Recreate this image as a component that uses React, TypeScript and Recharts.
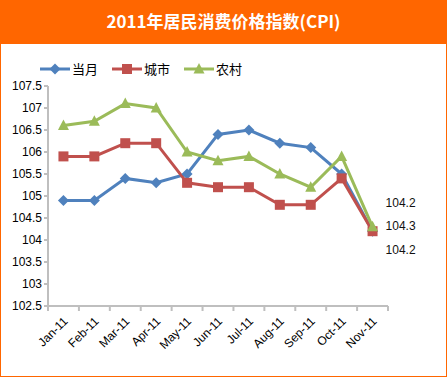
import React from 'react';
import { LineChart, Line, XAxis, YAxis, LabelList } from 'recharts';

const months = ['Jan-11', 'Feb-11', 'Mar-11', 'Apr-11', 'May-11', 'Jun-11', 'Jul-11', 'Aug-11', 'Sep-11', 'Oct-11', 'Nov-11'];
const dangYue = [104.9, 104.9, 105.4, 105.3, 105.5, 106.4, 106.5, 106.2, 106.1, 105.5, 104.2];
const chengShi = [105.9, 105.9, 106.2, 106.2, 105.3, 105.2, 105.2, 104.8, 104.8, 105.4, 104.2];
const nongCun = [106.6, 106.7, 107.1, 107.0, 106.0, 105.8, 105.9, 105.5, 105.2, 105.9, 104.3];
const yTicks = [102.5, 103, 103.5, 104, 104.5, 105, 105.5, 106, 106.5, 107, 107.5];

const title = '2011年居民消费价格指数(CPI)';

const series = [
  { key: 'dangYue', name: '当月', color: '#4F81BD', shape: 'diamond', labelDy: -28 },
  { key: 'chengShi', name: '城市', color: '#C0504D', shape: 'square', labelDy: 19 },
  { key: 'nongCun', name: '农村', color: '#9BBB59', shape: 'triangle', labelDy: -1 },
];

const data = months.map((m, i) => ({
  month: m,
  dangYue: dangYue[i],
  chengShi: chengShi[i],
  nongCun: nongCun[i],
}));

const FONT = '"Liberation Sans", Arial, sans-serif';
const CJK = '"Noto Sans CJK SC", sans-serif';
const HALF_BAND = 15.45;

const Marker = ({ shape, cx, cy, color }: { shape: string; cx: number; cy: number; color: string }) => {
  if (shape === 'diamond') {
    return <polygon points={`${cx},${cy - 5.5} ${cx + 5.5},${cy} ${cx},${cy + 5.5} ${cx - 5.5},${cy}`} fill={color} />;
  }
  if (shape === 'square') {
    return <rect x={cx - 5} y={cy - 5} width={10} height={10} fill={color} />;
  }
  return <polygon points={`${cx},${cy - 6} ${cx + 5.5},${cy + 4.5} ${cx - 5.5},${cy + 4.5}`} fill={color} />;
};

const MonthTick = (props: any) => {
  const { x, y, payload, index } = props;
  const last = index === months.length - 1;
  return (
    <g>
      <line x1={x - HALF_BAND} y1={y} x2={x - HALF_BAND} y2={y + 5} stroke="#BFBFBF" strokeWidth={2} />
      {last && <line x1={x + HALF_BAND} y1={y} x2={x + HALF_BAND} y2={y + 5} stroke="#BFBFBF" strokeWidth={2} />}
      <text
        x={x + 5}
        y={y + 16}
        transform={`rotate(-45, ${x + 5}, ${y + 16})`}
        textAnchor="end"
        fontSize={12}
        fontFamily={FONT}
        fill="#000"
      >
        {payload.value}
      </text>
    </g>
  );
};

const LegendBox = () => (
  <div style={{ position: 'absolute', left: 40, top: 62, display: 'flex', alignItems: 'center' }}>
    {series.map((s) => (
      <div key={s.key} style={{ display: 'flex', alignItems: 'center', marginRight: 14 }}>
        <svg width={30} height={14}>
          <line x1={0} y1={7} x2={30} y2={7} stroke={s.color} strokeWidth={3} />
          <Marker shape={s.shape} cx={15} cy={7} color={s.color} />
        </svg>
        <span style={{ fontFamily: CJK, fontSize: 13, color: '#000', marginLeft: 2, lineHeight: '14px' }}>{s.name}</span>
      </div>
    ))}
  </div>
);

export default function App() {
  return (
    <div style={{ position: 'absolute', left: 0, top: 0, width: 447, height: 377, background: '#FF6600', overflow: 'hidden' }}>
      <div style={{ position: 'absolute', left: 1, top: 44, width: 445, height: 332, background: '#fff' }} />
      <div
        style={{
          position: 'absolute',
          left: 0,
          top: 8,
          width: 447,
          textAlign: 'center',
          color: '#fff',
          fontFamily: CJK,
          fontWeight: 700,
          fontSize: 17,
          lineHeight: '26px',
        }}
      >
        {title}
      </div>
      <LegendBox />
      <div style={{ position: 'absolute', left: 0, top: 0 }}>
        <LineChart width={447} height={377} data={data} margin={{ top: 86, right: 59, bottom: 11, left: 0 }}>
          <XAxis
            dataKey="month"
            interval={0}
            tickLine={false}
            tickSize={0}
            tickMargin={0}
            height={60}
            padding={{ left: HALF_BAND, right: HALF_BAND }}
            axisLine={{ stroke: '#BFBFBF', strokeWidth: 2 }}
            tick={<MonthTick />}
          />
          <YAxis
            type="number"
            domain={[102.5, 107.5]}
            ticks={yTicks}
            interval={0}
            width={48}
            tickSize={4}
            tickMargin={2}
            axisLine={{ stroke: '#BFBFBF', strokeWidth: 2 }}
            tickLine={{ stroke: '#BFBFBF', strokeWidth: 2 }}
            tick={{ fontSize: 12, fontFamily: FONT, fill: '#000' }}
          />
          {series.map((s) => (
            <Line
              key={s.key}
              dataKey={s.key}
              name={s.name}
              type="linear"
              stroke={s.color}
              strokeWidth={3}
              isAnimationActive={false}
              activeDot={false}
              dot={(p: any) => <Marker key={`${s.key}-${p.index}`} shape={s.shape} cx={p.cx} cy={p.cy} color={s.color} />}
            >
              <LabelList
                dataKey={s.key}
                content={(p: any) =>
                  p.index === months.length - 1 ? (
                    <text
                      x={p.x + 13}
                      y={p.y + s.labelDy}
                      dominantBaseline="central"
                      fontSize={12}
                      fontFamily={FONT}
                      fill="#111"
                    >
                      {p.value}
                    </text>
                  ) : null
                }
              />
            </Line>
          ))}
        </LineChart>
      </div>
    </div>
  );
}
